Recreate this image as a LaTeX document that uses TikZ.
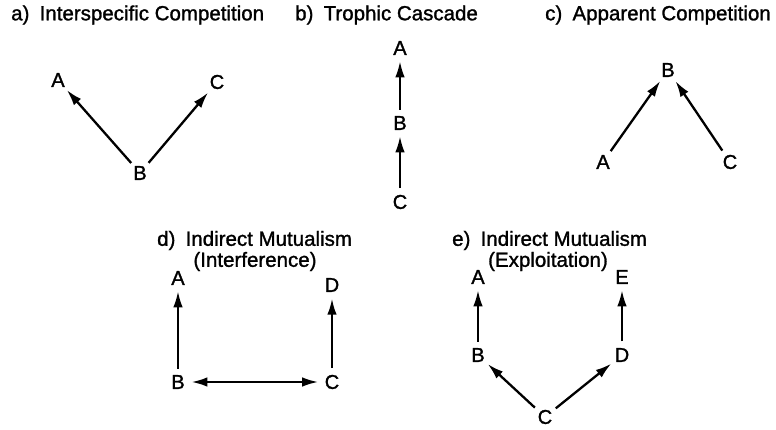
\documentclass[tikz,border=0pt]{standalone}
\usepackage{fontspec}
\setmainfont[FakeBold=1.3]{Liberation Sans}
\usetikzlibrary{arrows.meta}
\begin{document}
\begin{tikzpicture}[x=1pt,y=-1pt,
  sp/.style={circle,inner sep=2.5pt,font=\fontsize{20}{22}\selectfont},
  ttl/.style={anchor=west,inner sep=0pt,font=\fontsize{20.5}{22}\selectfont},
  sub/.style={inner sep=0pt,font=\fontsize{20.5}{22}\selectfont},
  link/.style={line width=2.3pt,-{Latex[length=16pt,width=9.5pt]}},
  vlink/.style={line width=2pt,-{Latex[length=16pt,width=9.5pt]}},
  both/.style={line width=2.3pt,{Latex[length=16pt,width=9.5pt]}-{Latex[length=16pt,width=9.5pt]}}]
\useasboundingbox (0,0) rectangle (776,430);
\fill[white] (0,0) rectangle (776,430);

% a) interspecific competition
\node[ttl] (ta) at (11,15) {a)\hspace{0.5em}Interspecific Competition};
\node[sp] (aA) at (58,80) {A};
\node[sp] (aC) at (217,82) {C};
\node[sp] (aB) at (140,173) {B};
\draw[link] (aB) -- (aA);
\draw[link] (aB) -- (aC);

% b) trophic cascade
\node[ttl] (tb) at (295,15) {b)\hspace{0.5em}Trophic Cascade};
\node[sp] (bA) at (400,48) {A};
\node[sp] (bB) at (400,123) {B};
\node[sp] (bC) at (400,202) {C};
\draw[vlink] (bB) -- (bA);
\draw[vlink] (bC) -- (bB);

% c) apparent competition
\node[ttl] (tc) at (545,15) {c)\hspace{0.5em}Apparent Competition};
\node[sp] (cB) at (668,70) {B};
\node[sp] (cA) at (603,162) {A};
\node[sp] (cC) at (730,162) {C};
\draw[link] (cA) -- (cB);
\draw[link] (cC) -- (cB);

% d) indirect mutualism, interference
\node[ttl] (td) at (157,240.5) {d)\hspace{0.5em}Indirect Mutualism};
\node[sub] (sd) at (255,261.5) {(Interference)};
\node[sp] (dA) at (178,278) {A};
\node[sp] (dD) at (332,285) {D};
\node[sp] (dB) at (178,382) {B};
\node[sp] (dC) at (332,382) {C};
\draw[vlink] (dB) -- (dA);
\draw[vlink] (dC) -- (dD);
\draw[both] (dB) -- (dC);

% e) indirect mutualism, exploitation
\node[ttl] (te) at (452,240.5) {e)\hspace{0.5em}Indirect Mutualism};
\node[sub] (se) at (548,261.5) {(Exploitation)};
\node[sp] (eA) at (478,277) {A};
\node[sp] (eE) at (622,277) {E};
\node[sp] (eB) at (478,355) {B};
\node[sp] (eD) at (622,355) {D};
\node[sp] (eC) at (545,417) {C};
\draw[vlink] (eB) -- (eA);
\draw[vlink] (eD) -- (eE);
\draw[link] (eC) -- (eB);
\draw[link] (eC) -- (eD);
\end{tikzpicture}
\end{document}
